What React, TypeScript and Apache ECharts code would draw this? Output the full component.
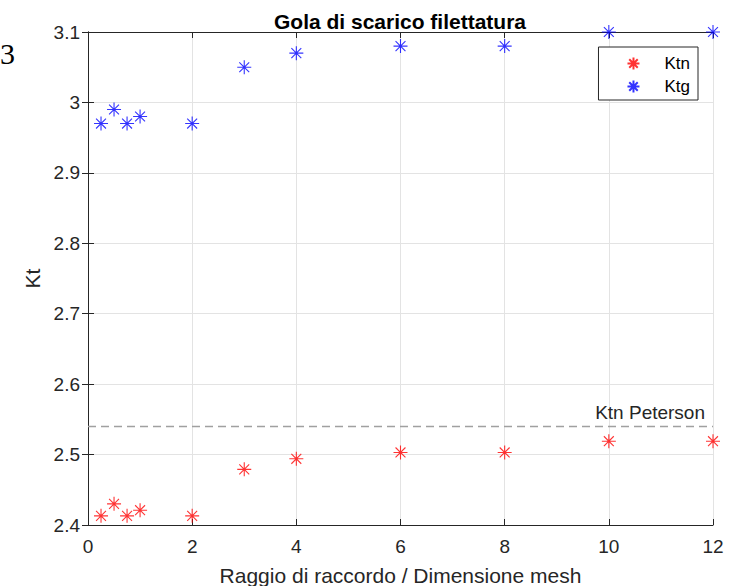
import React, { useEffect, useRef } from "react";
import * as echarts from "echarts";

const xValues = [0.25, 0.5, 0.75, 1, 2, 3, 4, 6, 8, 10, 12];
const ktn = [2.413, 2.43, 2.413, 2.421, 2.413, 2.479, 2.494, 2.503, 2.503, 2.519, 2.519];
const ktg = [2.97, 2.99, 2.97, 2.98, 2.97, 3.05, 3.07, 3.08, 3.08, 3.1, 3.1];
const petersonKtn = 2.54;

const ASTERISK =
  "path://M0,-10L0,10M-10,0L10,0M-7.07,-7.07L7.07,7.07M-7.07,7.07L7.07,-7.07";

const FONT = "Liberation Sans, Arial, sans-serif";
const AX = "#262626";

export default function App() {
  const ref = useRef<HTMLDivElement>(null);
  useEffect(() => {
    if (!ref.current) return;
    const chart = echarts.init(ref.current, null, { renderer: "svg" });
    const mk = (vals: number[]) => xValues.map((x, i) => [x, vals[i]]);
    const axisCommon = {
      axisLine: { show: true, lineStyle: { color: AX, width: 1 } },
      axisTick: { show: true, inside: true, length: 6, lineStyle: { color: AX } },
    };
    chart.setOption({
      animation: false,
      backgroundColor: "#ffffff",
      textStyle: { fontFamily: FONT },
      title: {
        text: "Gola di scarico filettatura",
        left: 395,
        textAlign: "center",
        top: 6,
        textStyle: { fontFamily: FONT, fontWeight: "bold", fontSize: 21, color: "#000" },
      },
      legend: {
        right: 38,
        top: 47,
        orient: "vertical",
        data: ["Ktn", "Ktg"],
        icon: ASTERISK,
        itemWidth: 12,
        itemHeight: 12,
        itemGap: 6,
        padding: [8, 8, 5, 28],
        borderColor: AX,
        borderWidth: 1,
        backgroundColor: "#fff",
        textStyle: { fontFamily: FONT, fontSize: 17, lineHeight: 16, color: "#000", padding: [0, 0, 0, 20] },
      },
      graphic: [
        {
          type: "text",
          left: 0,
          top: 38,
          style: { text: "3", font: "30px 'Liberation Serif', 'Times New Roman', serif", fill: "#000" },
        },
      ],
      grid: { left: 88, right: 23, top: 32, bottom: 61, containLabel: false, outerBoundsMode: "none" },
      xAxis: [
        {
          type: "value",
          min: 0,
          max: 12,
          interval: 2,
          name: "Raggio di raccordo / Dimensione mesh",
          nameLocation: "middle",
          nameGap: 40,
          nameTextStyle: { fontFamily: FONT, fontSize: 21, color: AX },
          axisLabel: { fontFamily: FONT, fontSize: 19, color: AX, margin: 12 },
          splitLine: { show: true, lineStyle: { color: "#e3e3e3" } },
          ...axisCommon,
        },
        {
          type: "value",
          position: "top",
          min: 0,
          max: 12,
          interval: 2,
          axisLabel: { show: false },
          splitLine: { show: false },
          ...axisCommon,
        },
      ],
      yAxis: [
        {
          type: "value",
          min: 2.4,
          max: 3.1,
          interval: 0.1,
          name: "Kt",
          nameLocation: "middle",
          nameGap: 44,
          nameTextStyle: { fontFamily: FONT, fontSize: 21, color: AX },
          axisLabel: { fontFamily: FONT, fontSize: 19, color: AX, margin: 8 },
          splitLine: { show: true, lineStyle: { color: "#e3e3e3" } },
          ...axisCommon,
        },
        {
          type: "value",
          position: "right",
          min: 2.4,
          max: 3.1,
          interval: 0.1,
          axisLabel: { show: false },
          splitLine: { show: false },
          ...axisCommon,
        },
      ],
      series: [
        {
          name: "Ktn",
          type: "scatter",
          data: mk(ktn),
          symbol: ASTERISK,
          symbolSize: 14,
          itemStyle: { color: "#ff0000", borderColor: "#ff0000", borderWidth: 1.1 },
          markLine: {
            silent: true,
            symbol: ["none", "none"],
            lineStyle: { color: "#a0a0a0", type: [8, 5], width: 1.3 },
            label: {
              show: true,
              position: "insideEndTop",
              formatter: "Ktn Peterson",
              fontFamily: FONT,
              fontSize: 19,
              color: "#262626",
              distance: [8, 4],
            },
            data: [{ yAxis: petersonKtn }],
          },
        },
        {
          name: "Ktg",
          type: "scatter",
          data: mk(ktg),
          symbol: ASTERISK,
          symbolSize: 14,
          itemStyle: { color: "#0000ff", borderColor: "#0000ff", borderWidth: 1.1 },
        },
      ],
    });
    return () => chart.dispose();
  }, []);
  return <div ref={ref} style={{ width: 736, height: 586, position: "absolute", left: 0, top: 0 }} />;
}
